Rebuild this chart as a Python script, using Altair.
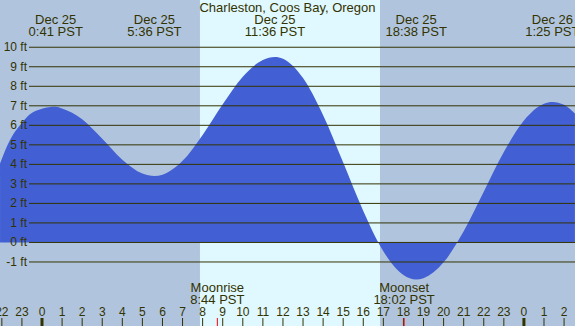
import altair as alt
import pandas as pd

# Tide curve (hours relative to Dec 25 00:00 PST, height in ft)
tide_hours = [-2.09, -1.6, -1.1, -0.6, 0, 0.68, 1, 2, 3, 4, 5, 5.6, 6, 7, 8, 9, 10, 11, 11.6,
              12, 13, 14, 15, 16, 17, 18, 18.63, 19, 20, 21, 22, 23, 24, 25, 25.42, 26, 26.54]
tide_ft = [4.05, 5.24, 6.0, 6.57, 6.85, 6.95, 6.86, 6.31, 5.31, 4.24, 3.53, 3.4, 3.47, 4.18, 5.51,
           7.08, 8.49, 9.35, 9.5, 9.41, 8.42, 6.52, 4.09, 1.61, -0.45, -1.67, -1.9, -1.83, -1.02,
           0.57, 2.60, 4.63, 6.25, 7.11, 7.2, 7.05, 6.6]

# Extremes labels
ext_hours = [0.683, 5.6, 11.6, 18.633, 25.417]
ext_labels = ["Dec 25\n0:41 PST", "Dec 25\n5:36 PST", "Dec 25\n11:36 PST",
              "Dec 25\n18:38 PST", "Dec 26\n1:25 PST"]

# Daylight
sunrise = 7.867
sunset = 16.833

# Moon events
moon_hours = [8.733, 18.033]
moon_labels = ["Moonrise\n8:44 PST", "Moonset\n18:02 PST"]

# Grid levels
levels = list(range(-1, 11))
level_labels = [f"{v} ft" for v in levels]

# Hour ticks
tick_hours = list(range(-2, 27))
tick_labels = [str(h % 24) for h in tick_hours]
midnights = [0, 24]

title = "Charleston, Coos Bay, Oregon"

W, H = 575, 326
TXT = "#333300"
FONT = "Liberation Sans"

xs = alt.Scale(domain=[-2.0916, 26.544], nice=False, zero=False)
ys = alt.Scale(domain=[-4.28, 12.42], nice=False, zero=False)

tide_df = pd.DataFrame({"h": tide_hours, "ft": tide_ft})
ext_df = pd.DataFrame({"h": ext_hours, "lab": ext_labels})
moon_df = pd.DataFrame({"h": moon_hours, "lab": moon_labels})
lev_df = pd.DataFrame({"ft": levels, "lab": level_labels})
tick_df = pd.DataFrame({"h": tick_hours, "lab": tick_labels})
mid_df = pd.DataFrame({"h": midnights})
day_df = pd.DataFrame({"a": [sunrise], "b": [sunset]})
title_df = pd.DataFrame({"t": [title]})

day = alt.Chart(day_df).mark_rect(color="#e0f8ff").encode(
    x=alt.X("a:Q", scale=xs, axis=None), x2="b:Q",
    y=alt.value(0), y2=alt.value(H))

area = alt.Chart(tide_df).mark_area(color="#4260d4", interpolate="monotone").encode(
    x=alt.X("h:Q", scale=xs, axis=None),
    y=alt.Y("ft:Q", scale=ys, axis=None),
    y2=alt.value(H))

lines = alt.Chart(lev_df).mark_rule(color="#333300", strokeWidth=1).encode(
    x=alt.value(29), x2=alt.value(W),
    y=alt.Y("ft:Q", scale=ys, axis=None))

ylab = alt.Chart(lev_df).mark_text(align="right", baseline="middle", font=FONT,
                                   fontSize=12, color=TXT).encode(
    x=alt.value(27), y=alt.Y("ft:Q", scale=ys, axis=None), text="lab:N")

ext_txt = alt.Chart(ext_df).mark_text(align="center", baseline="alphabetic", font=FONT,
                                      fontSize=13, color=TXT, lineBreak="\n",
                                      lineHeight=12).encode(
    x=alt.X("h:Q", scale=xs, axis=None), y=alt.value(24), text="lab:N")

title_txt = alt.Chart(title_df).mark_text(align="center", baseline="alphabetic", font=FONT,
                                          fontSize=13, color=TXT).encode(
    x=alt.value(W / 2), y=alt.value(12), text="t:N")

moon_txt = alt.Chart(moon_df).mark_text(align="center", baseline="alphabetic", font=FONT,
                                        fontSize=13, color=TXT, lineBreak="\n",
                                        lineHeight=11.5).encode(
    x=alt.X("h:Q", scale=xs, axis=None), y=alt.value(292), text="lab:N")

ticks = alt.Chart(tick_df).mark_rule(color="#333300", strokeWidth=1).encode(
    x=alt.X("h:Q", scale=xs, axis=None), y=alt.value(318), y2=alt.value(H))

mid_ticks = alt.Chart(mid_df).mark_rule(color="#333300", strokeWidth=3).encode(
    x=alt.X("h:Q", scale=xs, axis=None), y=alt.value(318), y2=alt.value(H))

moon_ticks = alt.Chart(moon_df).mark_rule(color="#ff0000", strokeWidth=1).encode(
    x=alt.X("h:Q", scale=xs, axis=None), y=alt.value(318), y2=alt.value(H))

tick_txt = alt.Chart(tick_df).mark_text(align="center", baseline="alphabetic", font=FONT,
                                        fontSize=12, color=TXT).encode(
    x=alt.X("h:Q", scale=xs, axis=None), y=alt.value(316), text="lab:N")

chart = alt.layer(day, area, lines, ylab, ext_txt, title_txt, moon_txt,
                  ticks, mid_ticks, moon_ticks, tick_txt).properties(
    width=W, height=H, padding=0, background="#b0c4de",
    autosize=alt.AutoSizeParams(type="none")
).configure_view(stroke=None)

chart.save("out.html", embed_options={"renderer": "svg", "actions": False})
